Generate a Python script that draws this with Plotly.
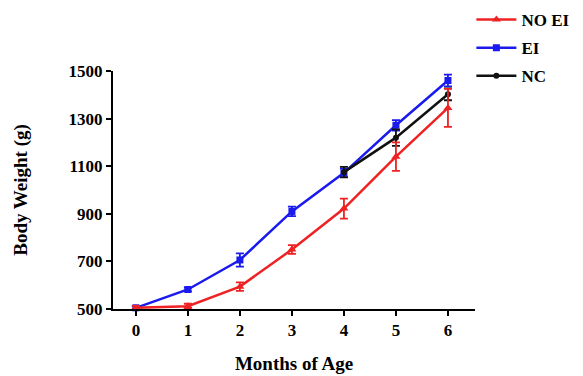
import plotly.graph_objects as go

months = [0, 1, 2, 3, 4, 5, 6]
no_ei = [505, 512, 594, 750, 922, 1140, 1345]
no_ei_err = [8, 10, 18, 18, 42, 60, 80]
ei = [505, 582, 706, 910, 1072, 1272, 1460]
ei_err = [6, 8, 28, 20, 18, 22, 25]
nc_months = [4, 5, 6]
nc = [1075, 1220, 1402]
nc_err = [22, 35, 25]

FONT = "Liberation Serif, Times New Roman, Times, serif"

fig = go.Figure()

def add(name, x, y, err, color, symbol, size, rank):
    fig.add_trace(go.Scatter(
        x=x, y=y, name=name, mode="lines+markers",
        line=dict(color=color, width=2.5),
        marker=dict(color=color, symbol=symbol, size=size),
        error_y=dict(type="data", array=err, color=color, thickness=1.8, width=4),
        legendrank=rank, legendgroup=name, cliponaxis=False,
    ))

add("EI", months, ei, ei_err, "#1a1aee", "square", 7, 2)
add("NC", nc_months, nc, nc_err, "#111111", "circle", 6, 3)
add("NO EI", months, no_ei, no_ei_err, "#ee2222", "triangle-up", 8, 1)

fig.update_layout(
    width=583, height=376,
    margin=dict(l=105, r=116, t=63, b=75, autoexpand=False),
    plot_bgcolor="white", paper_bgcolor="white",
    font=dict(family=FONT, size=17, color="black"),
    legend=dict(
        x=0.99, y=1.29, xanchor="left", yanchor="top",
        font=dict(family=FONT, size=17, color="black", weight="bold"),
        tracegroupgap=3, itemwidth=40,
        bgcolor="rgba(0,0,0,0)",
    ),
    showlegend=True,
)

fig.update_xaxes(
    range=[-0.44, 6.52], tickmode="array", tickvals=months,
    ticktext=[str(m) for m in months],
    showline=True, linecolor="black", linewidth=2,
    ticks="outside", ticklen=5, tickwidth=2, tickcolor="black",
    showgrid=False, zeroline=False,
    tickfont=dict(family=FONT, size=17, weight="bold"),
    title=dict(text="Months of Age", font=dict(family=FONT, size=19, weight="bold"), standoff=17),
)
fig.update_yaxes(
    range=[500, 1500], tickvals=[500, 700, 900, 1100, 1300, 1500],
    showline=True, linecolor="black", linewidth=2,
    ticks="outside", ticklen=5, tickwidth=2, tickcolor="black",
    showgrid=False, zeroline=False,
    tickfont=dict(family=FONT, size=17, weight="bold"),
    title=dict(text="Body Weight (g)", font=dict(family=FONT, size=19, weight="bold"), standoff=36),
)

fig.write_html("out.html")
